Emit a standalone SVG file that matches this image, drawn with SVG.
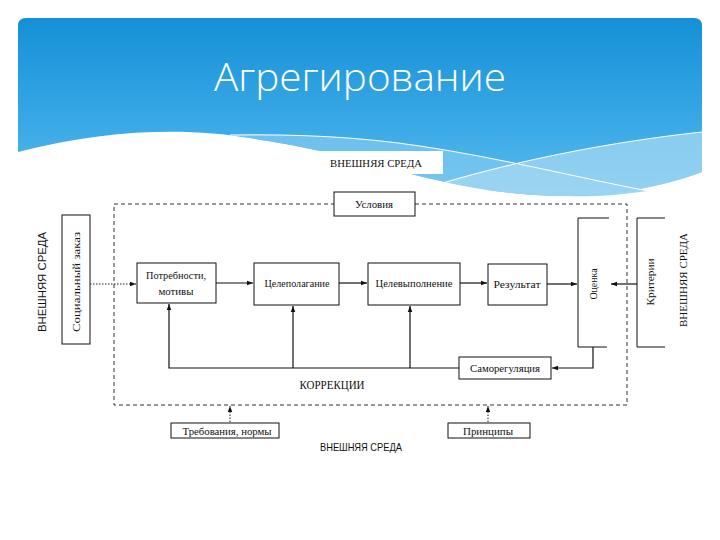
<svg xmlns="http://www.w3.org/2000/svg" width="720" height="540" viewBox="0 0 720 540">
<defs>
<linearGradient id="sky" x1="0" y1="0" x2="0" y2="1">
<stop offset="0" stop-color="#1590d6"/>
<stop offset="0.6" stop-color="#3aa9e6"/>
<stop offset="1" stop-color="#5bbcee"/>
</linearGradient>
<marker id="ah" viewBox="0 0 8 8" refX="8" refY="4" markerWidth="6" markerHeight="6" orient="auto" markerUnits="userSpaceOnUse">
<path d="M0,1 L8,4 L0,7 Z" fill="#111"/>
</marker>
<style>
.box{fill:#fff;stroke:#111;stroke-width:1}
.open{fill:none;stroke:#111;stroke-width:1}
.t{font-family:"Liberation Serif","Times New Roman",serif;font-size:10.5px;fill:#111;text-anchor:middle;dominant-baseline:central}
.s{font-family:"Liberation Sans",Arial,sans-serif;font-size:10.5px;fill:#111;text-anchor:middle;dominant-baseline:central}
.big{font-size:11.5px}
.c{fill:none;stroke:#111;stroke-width:1.2}
.d{fill:none;stroke:#222;stroke-width:1;stroke-dasharray:1.5 1.5}
</style>
</defs>
<rect width="720" height="540" fill="#fff"/>
<g id="header">
<path d="M18,26 Q18,18 26,18 H694 Q702,18 702,26 V172 C670,184 620,196 565,196 C500,196 440,182 380,166 C330,152 300,146 250,138 C190,128 110,128 18,152 Z" fill="url(#sky)"/>
<path d="M230,135 C300,134 360,137 420,146 C500,158 580,178 648,191 C610,196 590,197 565,196 C500,196 440,182 380,166 C330,152 300,146 250,138 Z" fill="#7ec8f0" opacity="0.75"/>
<path d="M443,182 C520,160 610,142 702,132 V172 C670,184 620,196 565,196 C520,196 480,190 443,182 Z" fill="#a9daf4" opacity="0.7"/>
<path d="M230,135 C300,134 360,137 420,146 C500,158 580,178 648,191" fill="none" stroke="#fff" stroke-width="1"/>
<path d="M443,183 C520,160 610,142 702,132" fill="none" stroke="#fff" stroke-width="1"/>
<text x="360" y="91" font-family="'Open Sans','Noto Sans',sans-serif" font-weight="300" font-size="39" fill="#fff" text-anchor="middle" textLength="292" lengthAdjust="spacingAndGlyphs">Агрегирование</text>
</g>
<rect id="frame" x="114" y="204" width="513" height="201" fill="none" stroke="#333" stroke-width="1" stroke-dasharray="4 3"/>
<g id="env-top">
<rect x="318" y="151" width="125" height="23" fill="#fff"/>
<text class="t" x="376" y="163" textLength="92" lengthAdjust="spacingAndGlyphs">ВНЕШНЯЯ СРЕДА</text>
</g>
<g id="env-left"><text class="s" transform="translate(42,282) rotate(-90)" textLength="100" lengthAdjust="spacingAndGlyphs">ВНЕШНЯЯ СРЕДА</text></g>
<g id="env-right"><text class="t" transform="translate(683,280) rotate(-90)" textLength="94" lengthAdjust="spacingAndGlyphs">ВНЕШНЯЯ СРЕДА</text></g>
<g id="env-bottom"><text class="s" x="361" y="447" textLength="82" lengthAdjust="spacingAndGlyphs">ВНЕШНЯЯ СРЕДА</text></g>
<g id="usloviya">
<rect class="box" x="334" y="192" width="81" height="24"/>
<text class="t" x="374" y="204" textLength="38" lengthAdjust="spacingAndGlyphs">Условия</text>
</g>
<g id="zakaz">
<rect class="box" x="62" y="215" width="28" height="129"/>
<text class="t" transform="translate(76,282) rotate(-90)" textLength="100" lengthAdjust="spacingAndGlyphs">Социальный заказ</text>
</g>
<g id="potrebnosti">
<rect class="box" x="137" y="263" width="79" height="40"/>
<text class="t" x="176" y="275" textLength="60" lengthAdjust="spacingAndGlyphs">Потребности,</text>
<text class="t" x="176" y="291" textLength="35" lengthAdjust="spacingAndGlyphs">мотивы</text>
</g>
<g id="tselepolaganie">
<rect class="box" x="254" y="263" width="85" height="42"/>
<text class="t" x="297" y="283" textLength="65" lengthAdjust="spacingAndGlyphs">Целеполагание</text>
</g>
<g id="tselevypolnenie">
<rect class="box" x="368" y="263" width="92" height="42"/>
<text class="t" x="414" y="283" textLength="77" lengthAdjust="spacingAndGlyphs">Целевыполнение</text>
</g>
<g id="rezultat">
<rect class="box" x="488" y="264" width="59" height="41"/>
<text class="t" x="517" y="284" textLength="47" lengthAdjust="spacingAndGlyphs">Результат</text>
</g>
<g id="otsenka">
<path class="open" d="M609,218 H578 V347 H607"/>
<text class="t" transform="translate(593,284) rotate(-90)" textLength="31" lengthAdjust="spacingAndGlyphs">Оценка</text>
</g>
<g id="kriterii">
<path class="open" d="M665,218 H637 V347 H665"/>
<text class="t" transform="translate(650,282) rotate(-90)" textLength="47" lengthAdjust="spacingAndGlyphs">Критерии</text>
</g>
<g id="samoregulyatsiya">
<rect class="box" x="459" y="357" width="92" height="22"/>
<text class="t" x="505" y="368" textLength="70" lengthAdjust="spacingAndGlyphs">Саморегуляция</text>
</g>
<g id="korrektsii"><text class="t big" x="332" y="385" textLength="65" lengthAdjust="spacingAndGlyphs">КОРРЕКЦИИ</text></g>
<g id="trebovaniya">
<rect class="box" x="171" y="423" width="108" height="15"/>
<text class="t" x="227" y="431" textLength="89" lengthAdjust="spacingAndGlyphs">Требования, нормы</text>
</g>
<g id="printsipy">
<rect class="box" x="448" y="423" width="82" height="15"/>
<text class="t" x="488" y="431" textLength="50" lengthAdjust="spacingAndGlyphs">Принципы</text>
</g>
<g id="connectors">
<path class="d" d="M90,284 H136" marker-end="url(#ah)"/>
<path class="c" d="M216,283 H253" marker-end="url(#ah)"/>
<path class="c" d="M339,283 H367" marker-end="url(#ah)"/>
<path class="c" d="M460,283 H487" marker-end="url(#ah)"/>
<path class="c" d="M547,284 H577" marker-end="url(#ah)"/>
<path class="c" d="M637,284 H611" marker-end="url(#ah)"/>
<path class="c" d="M593,347 V368 H552" marker-end="url(#ah)"/>
<path class="c" d="M459,368 H169 V304" marker-end="url(#ah)"/>
<path class="c" d="M293,368 V306" marker-end="url(#ah)"/>
<path class="c" d="M410,368 V306" marker-end="url(#ah)"/>
<path class="d" d="M230,422 V406" marker-end="url(#ah)"/>
<path class="d" d="M488,422 V406" marker-end="url(#ah)"/>
</g>
</svg>
